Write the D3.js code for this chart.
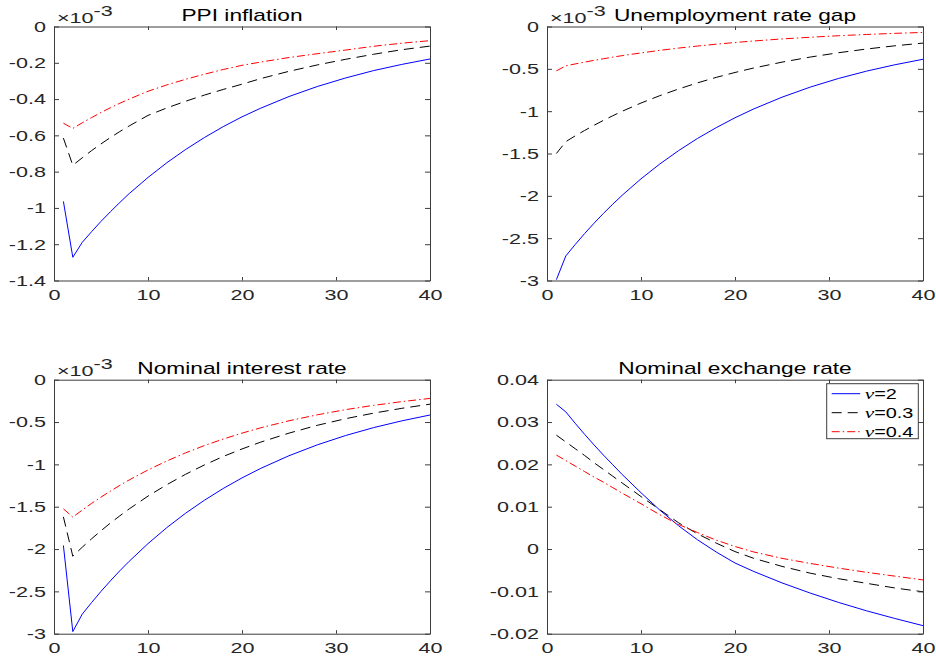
<!DOCTYPE html>
<html><head><meta charset="utf-8">
<script src="https://cdn.jsdelivr.net/npm/d3@7"></script>
<style>body{margin:0;background:#fff}svg{display:block}</style>
</head><body>
<svg id="chart" width="936" height="661"></svg>
<script>
// ---------------- data ----------------
const periods = [1,2,3,4,5,6,7,8,10,12,14,16,18,20,22,25,28,31,34,37,40];
const seriesNames = ["2","0.3","0.4"];
const titles = ["PPI inflation","Unemployment rate gap","Nominal interest rate","Nominal exchange rate"];
const xTicks = [0,10,20,30,40];
const xTickLabels = ["0","10","20","30","40"];

// PPI inflation (x10^-3)
const ppiNu2  = [-0.964,-1.272,-1.190,-1.131,-1.074,-1.021,-0.970,-0.921,-0.832,-0.751,-0.678,-0.612,-0.552,-0.498,-0.450,-0.386,-0.331,-0.284,-0.243,-0.209,-0.179];
const ppiNu03 = [-0.615,-0.765,-0.724,-0.684,-0.647,-0.612,-0.579,-0.548,-0.490,-0.449,-0.412,-0.378,-0.347,-0.318,-0.287,-0.247,-0.212,-0.181,-0.153,-0.128,-0.108];
const ppiNu04 = [-0.533,-0.562,-0.531,-0.502,-0.474,-0.448,-0.423,-0.400,-0.357,-0.322,-0.291,-0.263,-0.237,-0.214,-0.196,-0.171,-0.150,-0.130,-0.109,-0.092,-0.078];
const ppiTicks = [0,-0.2,-0.4,-0.6,-0.8,-1,-1.2,-1.4];
const ppiTickLabels = ["0","-0.2","-0.4","-0.6","-0.8","-1","-1.2","-1.4"];

// Unemployment rate gap (x10^-3)
const unNu2  = [-2.990,-2.710,-2.575,-2.446,-2.324,-2.208,-2.098,-1.993,-1.799,-1.624,-1.466,-1.323,-1.195,-1.078,-0.973,-0.835,-0.716,-0.614,-0.527,-0.452,-0.387];
const unNu03 = [-1.500,-1.360,-1.292,-1.228,-1.167,-1.109,-1.054,-1.001,-0.904,-0.817,-0.738,-0.666,-0.601,-0.543,-0.490,-0.421,-0.361,-0.310,-0.266,-0.228,-0.196];
const unNu04 = [-0.524,-0.465,-0.442,-0.421,-0.400,-0.381,-0.362,-0.344,-0.312,-0.282,-0.255,-0.231,-0.209,-0.189,-0.171,-0.147,-0.127,-0.109,-0.094,-0.081,-0.070];
const unTicks = [0,-0.5,-1,-1.5,-2,-2.5,-3];
const unTickLabels = ["0","-0.5","-1","-1.5","-2","-2.5","-3"];

// Nominal interest rate (x10^-3)
const irNu2  = [-1.958,-2.975,-2.770,-2.632,-2.500,-2.376,-2.257,-2.145,-1.936,-1.747,-1.577,-1.424,-1.285,-1.160,-1.047,-0.898,-0.770,-0.660,-0.566,-0.486,-0.417];
const irNu03 = [-1.620,-2.085,-1.979,-1.879,-1.784,-1.693,-1.608,-1.526,-1.375,-1.240,-1.117,-1.007,-0.907,-0.818,-0.737,-0.631,-0.539,-0.461,-0.395,-0.338,-0.289];
const irNu04 = [-1.525,-1.623,-1.540,-1.461,-1.387,-1.316,-1.248,-1.184,-1.066,-0.960,-0.864,-0.778,-0.701,-0.631,-0.568,-0.485,-0.415,-0.354,-0.303,-0.259,-0.221];
const irTicks = [0,-0.5,-1,-1.5,-2,-2.5,-3];
const irTickLabels = ["0","-0.5","-1","-1.5","-2","-2.5","-3"];

// Nominal exchange rate
const erNu2  = [0.0342,0.0324,0.0297,0.0271,0.0246,0.0222,0.0199,0.0176,0.0133,0.0092,0.0055,0.0022,-0.0007,-0.0033,-0.0053,-0.0080,-0.0104,-0.0126,-0.0146,-0.0164,-0.0181];
const erNu03 = [0.0269,0.0253,0.0237,0.0221,0.0204,0.0188,0.0172,0.0156,0.0124,0.0093,0.0062,0.0036,0.0014,-0.0006,-0.0022,-0.0041,-0.0057,-0.0070,-0.0081,-0.0092,-0.0101];
const erNu04 = [0.0222,0.0209,0.0196,0.0183,0.0170,0.0158,0.0145,0.0132,0.0107,0.0081,0.0058,0.0039,0.0021,0.0006,-0.0007,-0.0022,-0.0034,-0.0045,-0.0055,-0.0064,-0.0073];
const erTicks = [0.04,0.03,0.02,0.01,0,-0.01,-0.02];
const erTickLabels = ["0.04","0.03","0.02","0.01","0","-0.01","-0.02"];

// ---------------- drawing ----------------
const SX = 1.42;               // horizontal stretch of the original figure's text
const FONT = "'Liberation Sans', Arial, Helvetica, sans-serif";
const AXC = "#3c3c3c";
const TICKFS = 15.2;
const styles = [
  {color:"#0000ff", dash:null},
  {color:"#000000", dash:"10,6"},
  {color:"#ff0000", dash:"8,3,1.5,3"}
];

const panels = [
  {title:titles[0], x0:54,  x1:430, y0:26.5,  y1:280.5, dom:[-1.4,0],    ticks:ppiTicks, labels:ppiTickLabels, data:[ppiNu2,ppiNu03,ppiNu04], exp:true},
  {title:titles[1], x0:547, x1:923, y0:26.5,  y1:280.5, dom:[-3,0],      ticks:unTicks,  labels:unTickLabels,  data:[unNu2,unNu03,unNu04],    exp:true},
  {title:titles[2], x0:54,  x1:430, y0:379.7, y1:633.7, dom:[-3,0],      ticks:irTicks,  labels:irTickLabels,  data:[irNu2,irNu03,irNu04],    exp:true},
  {title:titles[3], x0:547, x1:923, y0:379.7, y1:633.7, dom:[-0.02,0.04],ticks:erTicks,  labels:erTickLabels,  data:[erNu2,erNu03,erNu04],    exp:false, legend:true}
];

const svg = d3.select("#chart");
svg.append("rect").attr("width",936).attr("height",661).attr("fill","#fff");

function styleAxis(g){
  g.select(".domain").attr("stroke", AXC).attr("stroke-width",1);
  g.selectAll(".tick line").attr("stroke", AXC).attr("stroke-width",1);
}

panels.forEach((p,pi)=>{
  const x = d3.scaleLinear().domain([0,40]).range([p.x0,p.x1]);
  const y = d3.scaleLinear().domain(p.dom).range([p.y1,p.y0]);
  const g = svg.append("g");

  const clipId = "clip"+pi;
  svg.append("clipPath").attr("id",clipId).append("rect")
    .attr("x",p.x0).attr("y",p.y0).attr("width",p.x1-p.x0).attr("height",p.y1-p.y0);

  // series
  const line = d3.line().x((d,i)=>x(periods[i])).y(d=>y(d));
  p.data.forEach((arr,si)=>{
    g.append("path").datum(arr)
      .attr("clip-path",`url(#${clipId})`)
      .attr("fill","none")
      .attr("stroke",styles[si].color)
      .attr("stroke-width",1)
      .attr("stroke-dasharray",styles[si].dash)
      .attr("d",line);
  });

  // axes
  const bottom = g.append("g").attr("transform",`translate(0,${p.y1})`)
    .call(d3.axisBottom(x).tickValues(xTicks).tickFormat((d,i)=>xTickLabels[i]).tickSizeInner(-3.5).tickSizeOuter(0).tickPadding(8.5));
  const top = g.append("g").attr("transform",`translate(0,${p.y0})`)
    .call(d3.axisTop(x).tickValues(xTicks).tickFormat("").tickSizeInner(-3.5).tickSizeOuter(0));
  const left = g.append("g").attr("transform",`translate(${p.x0},0)`)
    .call(d3.axisLeft(y).tickValues(p.ticks).tickFormat((d,i)=>p.labels[i]).tickSizeInner(-5).tickSizeOuter(0).tickPadding(8));
  const right = g.append("g").attr("transform",`translate(${p.x1},0)`)
    .call(d3.axisRight(y).tickValues(p.ticks).tickFormat("").tickSizeInner(-5).tickSizeOuter(0));
  [bottom,top,left,right].forEach(styleAxis);

  bottom.selectAll(".tick text")
    .attr("font-family",FONT).attr("font-size",TICKFS).attr("fill","#262626")
    .each(function(){
      const t=d3.select(this); const yy=+t.attr("y");
      t.attr("y",null).attr("transform",`translate(0,${yy}) scale(${SX},1)`);
    });
  left.selectAll(".tick text")
    .attr("font-family",FONT).attr("font-size",TICKFS).attr("fill","#262626")
    .each(function(){
      const t=d3.select(this); const xx=+t.attr("x");
      t.attr("x",null).attr("transform",`translate(${xx},0) scale(${SX},1)`);
    });

  // title
  g.append("text")
    .attr("transform",`translate(${(p.x0+p.x1)/2},${p.y0-6}) scale(${SX},1)`)
    .attr("text-anchor","middle").attr("font-family",FONT).attr("font-size",16)
    .attr("fill","#000").text(p.title);

  // exponent marker
  if(p.exp){
    const t = g.append("text")
      .attr("transform",`translate(${p.x0+3},${p.y0-3.5}) scale(${SX},1)`)
      .attr("font-family",FONT).attr("font-size",TICKFS).attr("fill","#262626");
    t.append("tspan").text("\u00d710");
    t.append("tspan").attr("dy",-6.8).text("-3");
  }

  // legend
  if(p.legend){
    const lg = g.append("g");
    const lx = 826.7, ly = 383.7, lw = 91.6, lh = 55;
    lg.append("rect").attr("x",lx).attr("y",ly).attr("width",lw).attr("height",lh)
      .attr("fill","#fff").attr("stroke",AXC).attr("stroke-width",1);
    seriesNames.forEach((nm,si)=>{
      const cy = ly + 10 + si*19;
      lg.append("line").attr("x1",lx+5).attr("x2",lx+33.5).attr("y1",cy).attr("y2",cy)
        .attr("stroke",styles[si].color).attr("stroke-width",1)
        .attr("stroke-dasharray",styles[si].dash);
      const tx = lg.append("text")
        .attr("transform",`translate(${lx+38},${cy+5}) scale(${SX},1)`)
        .attr("font-family",FONT).attr("font-size",14).attr("fill","#000");
      tx.append("tspan").attr("font-family","'Liberation Serif', 'Times New Roman', serif")
        .attr("font-style","italic").attr("font-size",15).text("\u03bd");
      tx.append("tspan").text("="+nm);
    });
  }
});
</script>
</body></html>
